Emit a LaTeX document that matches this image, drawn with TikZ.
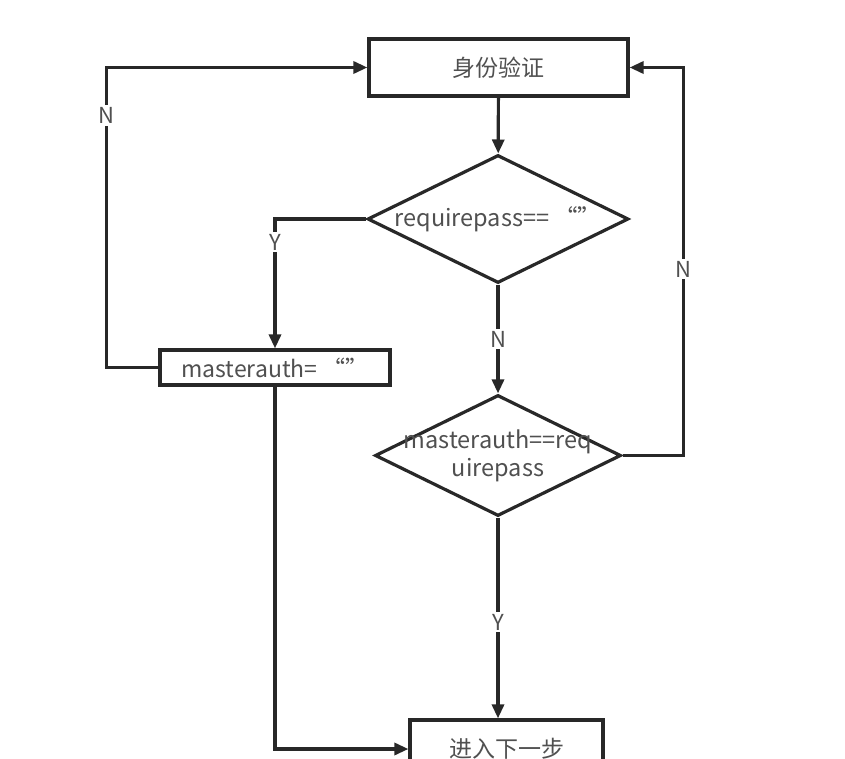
\documentclass[tikz,border=0pt]{standalone}
\usepackage{fontspec}
\setmainfont{Noto Sans CJK SC}
\usetikzlibrary{arrows.meta,shapes.geometric}
\definecolor{linegray}{RGB}{40,40,40}
\definecolor{textgray}{RGB}{80,80,80}

\begin{document}
\begin{tikzpicture}[x=1pt,y=-1pt,
  box/.style={draw=linegray,line width=3.2pt,rectangle,inner sep=0pt,
              text=textgray,font=\fontsize{23}{27}\selectfont},
  decision/.style={draw=linegray,line width=3.2pt,diamond,inner sep=0pt},
  dtext/.style={text=textgray,align=center,font=\fontsize{23.5}{28}\selectfont},
  ar/.style={-{Triangle[length=14pt,width=12pt]},draw=linegray,line width=3.2pt},
  lbl/.style={fill=white,text=textgray,inner sep=2pt,font=\fontsize{22}{26}\selectfont}
]
\useasboundingbox (0,0) rectangle (845,759);
\fill[white] (0,0) rectangle (845,759);
\clip (0,0) rectangle (845,759);

\node[box,minimum width=259pt,minimum height=57pt] (auth) at (498.5,67.5) {身份验证};
\node[decision,minimum width=261pt,minimum height=128pt,
      label={[dtext]center:requirepass==\ “”}] (req) at (498,219) {};
\node[box,minimum width=230pt,minimum height=35pt] (mauth) at (275,367.5) {masterauth=\ “”};
\node[decision,minimum width=246pt,minimum height=121pt,
      label={[dtext]center:masterauth==req\\uirepass}] (match) at (498,455.5) {};
\node[box,minimum width=193pt,minimum height=58pt] (next) at (506.5,749) {进入下一步};

\draw[ar] (auth) -- (req);
\draw[ar] (req.west) -| node[lbl,pos=0.59]{Y} (mauth.north);
\draw[ar] (mauth.west) -- ++(-52,0) |- node[lbl,pos=0.42]{N} (auth.west);
\draw[ar] (req.south) -- node[lbl]{N} (match.north);
\draw[ar] (match.east) -- ++(61,0) |- node[lbl,pos=0.24]{N} (auth.east);
\draw[ar] (match.south) -- node[lbl,pos=0.52]{Y} (match.south |- next.north);
\draw[ar] (mauth.south) |- (next.west);
\end{tikzpicture}
\end{document}
